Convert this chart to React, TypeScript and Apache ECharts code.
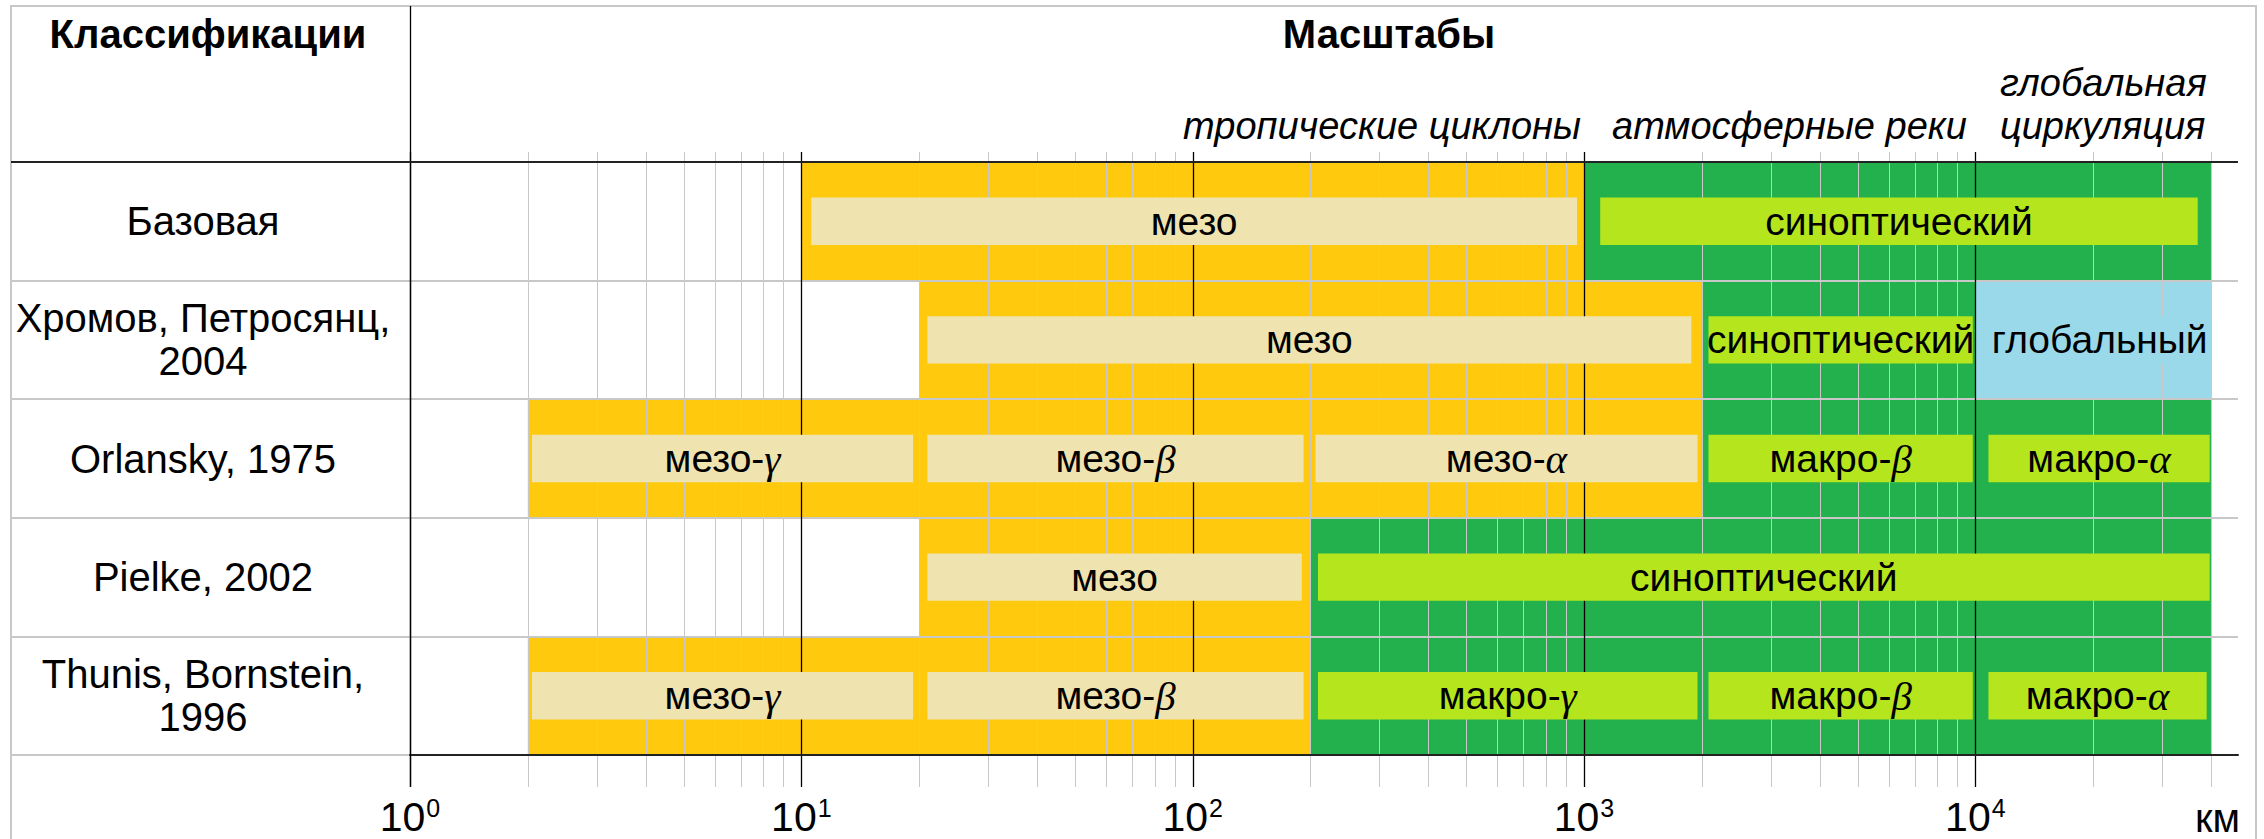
import { useEffect, useRef } from 'react';
import * as echarts from 'echarts';

const rowLabels = ['Базовая', 'Хромов, Петросянц,\n2004', 'Orlansky, 1975', 'Pielke, 2002', 'Thunis, Bornstein,\n1996'];

// background bands per row: [fromKm, toKm, kind]
const bandsBase: any[] = [[10, 1000, 'meso'], [1000, 40000, 'synoptic']];
const bandsKhromov: any[] = [[20, 2000, 'meso'], [2000, 10000, 'synoptic'], [10000, 40000, 'global']];
const bandsOrlansky: any[] = [[2, 2000, 'meso'], [2000, 40000, 'synoptic']];
const bandsPielke: any[] = [[20, 200, 'meso'], [200, 40000, 'synoptic']];
const bandsThunis: any[] = [[2, 200, 'meso'], [200, 40000, 'synoptic']];

// label boxes per row: [fromKm, toKm, text, greek, kind]
const boxesBase: any[] = [[10.6, 960, 'мезо', '', 'meso'], [1100, 37000, 'синоптический', '', 'synoptic']];
const boxesKhromov: any[] = [[21, 1880, 'мезо', '', 'meso'], [2080, 9850, 'синоптический', '', 'synoptic'], [10800, 40000, 'глобальный', '', 'global']];
const boxesOrlansky: any[] = [[2.05, 19.3, 'мезо-', 'γ', 'meso'], [21, 192, 'мезо-', 'β', 'meso'], [206, 1950, 'мезо-', 'α', 'meso'], [2080, 9850, 'макро-', 'β', 'synoptic'], [10800, 39700, 'макро-', 'α', 'synoptic']];
const boxesPielke: any[] = [[21, 190, 'мезо', '', 'meso'], [209, 39700, 'синоптический', '', 'synoptic']];
const boxesThunis: any[] = [[2.05, 19.3, 'мезо-', 'γ', 'meso'], [21, 192, 'мезо-', 'β', 'meso'], [209, 1950, 'макро-', 'γ', 'synoptic'], [2080, 9850, 'макро-', 'β', 'synoptic'], [10800, 39000, 'макро-', 'α', 'synoptic']];

const majorTicksKm = [1, 10, 100, 1000, 10000];
const minorFactors = [2, 3, 4, 5, 6, 7, 8, 9];
const axisMaxKm = 46900;
const unitLabel = 'км';

const headerLeft = 'Классификации';
const headerMain = 'Масштабы';
const phenomena = ['тропические циклоны', 'атмосферные реки', 'глобальная', 'циркуляция'];

const bandColors: Record<string, string> = { meso: '#FFC90E', synoptic: '#22B14C', global: '#99D9EA' };
const boxColors: Record<string, string> = { meso: '#EFE4B0', synoptic: '#B5E61D', global: '#99D9EA' };

const FONT = '"Liberation Sans", Arial, sans-serif';
const SERIF = '"Liberation Serif", "Times New Roman", serif';

export default function App() {
  const ref = useRef<HTMLDivElement>(null);
  useEffect(() => {
    if (!ref.current) return;
    const chart = echarts.init(ref.current, null, { renderer: 'svg' });

    const bandRows = [bandsBase, bandsKhromov, bandsOrlansky, bandsPielke, bandsThunis];
    const boxRows = [boxesBase, boxesKhromov, boxesOrlansky, boxesPielke, boxesThunis];
    const bands = bandRows.flatMap((list, row) => list.map((b) => ({ from: b[0], to: b[1], kind: b[2], row })));
    const boxes = boxRows.flatMap((list, row) => list.map((b) => ({ from: b[0], to: b[1], text: b[2], greek: b[3], kind: b[4], row })));

    const ticks: { v: number; major: boolean }[] = [];
    majorTicksKm.forEach((m) => {
      ticks.push({ v: m, major: true });
      minorFactors.forEach((f) => {
        if (m * f <= axisMaxKm) ticks.push({ v: m * f, major: false });
      });
    });

    const option: any = {
      animation: false,
      backgroundColor: '#ffffff',
      grid: { left: 410, right: 26, top: 162, bottom: 84, containLabel: false, outerBoundsMode: 'none' },
      xAxis: {
        type: 'value',
        min: 0,
        max: Math.log10(axisMaxKm),
        interval: 1,
        z: 6,
        axisLine: { show: true, lineStyle: { color: '#222', width: 2 } },
        axisTick: { show: false },
        splitLine: { show: false },
        axisLabel: {
          margin: 40,
          showMaxLabel: true,
          formatter: (v: number) => (Math.abs(v - Math.round(v)) < 1e-9 ? `{b|10}{s|${Math.round(v)}}` : ''),
          rich: {
            b: { fontSize: 41, fontFamily: FONT, color: '#000', lineHeight: 44 },
            s: { fontSize: 25, fontFamily: FONT, color: '#000', lineHeight: 25, verticalAlign: 'top', padding: [0, 0, 0, 1] },
          },
        },
      },
      yAxis: {
        type: 'category',
        data: rowLabels,
        inverse: true,
        z: 3,
        axisLine: { show: false },
        axisTick: { show: true, length: 399, interval: 0, lineStyle: { color: '#C8C8C8', width: 2 } },
        splitLine: { show: true, interval: 0, lineStyle: { color: '#C8C8C8', width: 2 } },
        axisLabel: { margin: 207, align: 'center', fontSize: 40, lineHeight: 43, color: '#000', fontFamily: FONT, interval: 0 },
      },
      series: [
        {
          type: 'custom',
          name: 'bands',
          z: 1,
          encode: { x: [0, 1], y: 2 },
          data: bands.map((b) => [Math.log10(b.from), Math.log10(b.to), b.row]),
          renderItem: (params: any, api: any) => {
            const b = bands[params.dataIndex];
            const a = api.coord([api.value(0), api.value(2)]);
            const e = api.coord([api.value(1), api.value(2)]);
            const h = api.size([0, 1])[1];
            return {
              type: 'rect',
              shape: { x: a[0], y: a[1] - h / 2, width: e[0] - a[0], height: h },
              style: { fill: bandColors[b.kind] },
            };
          },
        },
        {
          type: 'custom',
          name: 'grid',
          z: 4,
          encode: { x: 0, y: 1 },
          data: ticks.map((t) => [Math.log10(t.v), 0]),
          renderItem: (params: any, api: any) => {
            const t = ticks[params.dataIndex];
            const p = api.coord([api.value(0), 0]);
            const cs = params.coordSys;
            const x = Math.round(p[0]) + 0.5;
            return {
              type: 'line',
              shape: { x1: x, y1: cs.y - 10, x2: x, y2: cs.y + cs.height + 32 },
              style: { stroke: t.major ? '#000' : '#C8C8C8', lineWidth: t.major ? 1.3 : 1 },
            };
          },
        },
        {
          type: 'custom',
          name: 'boxes',
          z: 5,
          encode: { x: [0, 1], y: 2 },
          data: boxes.map((b) => [Math.log10(b.from), Math.log10(b.to), b.row]),
          renderItem: (params: any, api: any) => {
            const b = boxes[params.dataIndex];
            const a = api.coord([api.value(0), api.value(2)]);
            const e = api.coord([api.value(1), api.value(2)]);
            const h = api.size([0, 1])[1] * 0.4;
            const text = b.greek ? `{t|${b.text}}{g|${b.greek}}` : `{t|${b.text}}`;
            return {
              type: 'rect',
              shape: { x: a[0], y: a[1] - h / 2, width: e[0] - a[0], height: h },
              style: { fill: boxColors[b.kind] },
              textContent: {
                style: {
                  text,
                  rich: {
                    t: { fontSize: 39, fontFamily: FONT, fill: '#000', lineHeight: 44 },
                    g: { fontSize: 41, fontFamily: SERIF, fontStyle: 'italic', fill: '#000', lineHeight: 44 },
                  },
                },
              },
              textConfig: { position: 'inside' },
            };
          },
        },
      ],
      graphic: [
        { type: 'rect', z: 100, shape: { x: 11, y: 6, width: 2245, height: 900 }, style: { fill: 'none', stroke: '#C8C8C8', lineWidth: 2 } },
        { type: 'line', z: 100, shape: { x1: 410.5, y1: 6, x2: 410.5, y2: 787 }, style: { stroke: '#000', lineWidth: 1.3 } },
        { type: 'line', z: 100, shape: { x1: 11, y1: 162, x2: 2238, y2: 162 }, style: { stroke: '#222', lineWidth: 2 } },
        { type: 'text', z: 100, x: 208, y: 34, style: { text: headerLeft, font: `bold 40px ${FONT}`, fill: '#000', align: 'center', verticalAlign: 'middle' } },
        { type: 'text', z: 100, x: 1389, y: 34, style: { text: headerMain, font: `bold 40px ${FONT}`, fill: '#000', align: 'center', verticalAlign: 'middle' } },
        { type: 'text', z: 100, x: 1581, y: 126, style: { text: phenomena[0], font: `italic 38px ${FONT}`, fill: '#000', align: 'right', verticalAlign: 'middle' } },
        { type: 'text', z: 100, x: 1612, y: 126, style: { text: phenomena[1], font: `italic 38px ${FONT}`, fill: '#000', align: 'left', verticalAlign: 'middle' } },
        { type: 'text', z: 100, x: 2000, y: 83, style: { text: phenomena[2], font: `italic 38px ${FONT}`, fill: '#000', align: 'left', verticalAlign: 'middle' } },
        { type: 'text', z: 100, x: 2000, y: 126, style: { text: phenomena[3], font: `italic 38px ${FONT}`, fill: '#000', align: 'left', verticalAlign: 'middle' } },
        { type: 'text', z: 100, x: 2195, y: 818, style: { text: unitLabel, font: `40px ${FONT}`, fill: '#000', align: 'left', verticalAlign: 'middle' } },
      ],
    };
    chart.setOption(option);
    return () => chart.dispose();
  }, []);
  return <div ref={ref} style={{ position: 'absolute', left: 0, top: 0, width: 2264, height: 839 }} />;
}
